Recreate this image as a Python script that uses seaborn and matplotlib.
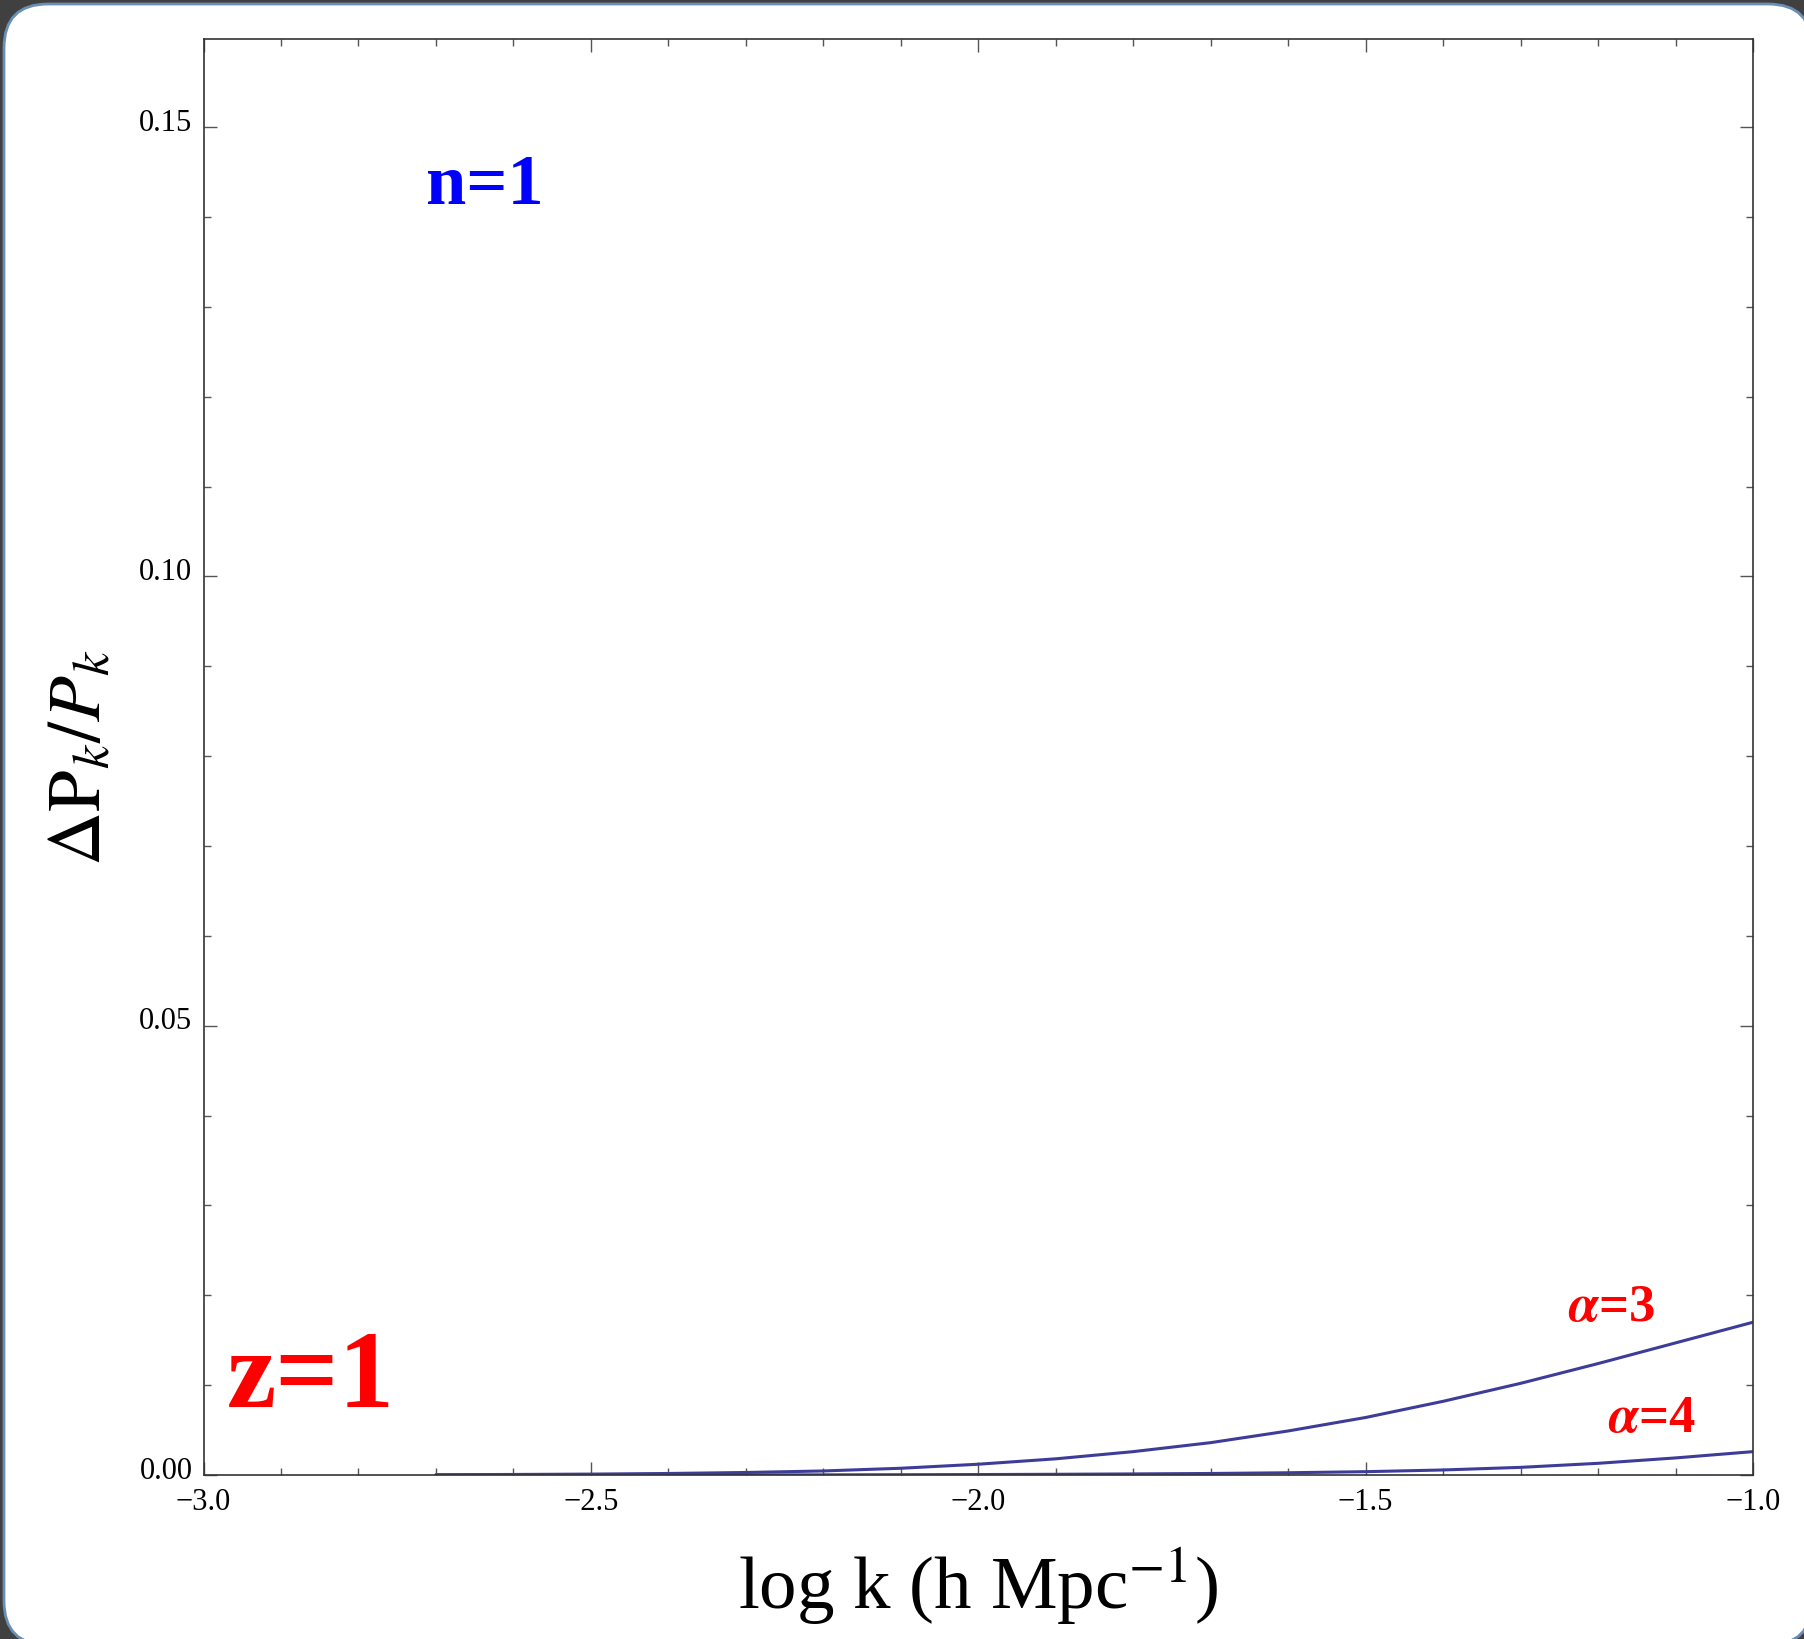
import numpy as np
import pandas as pd
import matplotlib
matplotlib.use("Agg")
import matplotlib.pyplot as plt
from matplotlib.patches import FancyBboxPatch
from matplotlib.ticker import MultipleLocator, FuncFormatter
import matplotlib.transforms as mtransforms
import seaborn as sns

# ---- data ----
log_k = [-2.7, -2.6, -2.5, -2.4, -2.3, -2.2, -2.1, -2.0, -1.9, -1.8,
         -1.7, -1.6, -1.5, -1.4, -1.3, -1.2, -1.1, -1.0]
dp_alpha3 = [0.00003, 0.00006, 0.0001, 0.00017, 0.00028, 0.00045, 0.00075, 0.0012,
             0.0018, 0.0026, 0.0036, 0.0049, 0.0064, 0.0082, 0.0102, 0.0124,
             0.0147, 0.0170]
dp_alpha4 = [0.0, 0.000001, 0.000002, 0.000004, 0.000008, 0.000015, 0.00003, 0.00005,
             0.00008, 0.00012, 0.00017, 0.00025, 0.00037, 0.00056, 0.00085, 0.0013,
             0.0019, 0.0026]
series_names = ["α=3", "α=4"]

df = pd.DataFrame({
    "logk": log_k + log_k,
    "dP": dp_alpha3 + dp_alpha4,
    "alpha": [series_names[0]] * len(log_k) + [series_names[1]] * len(log_k),
})

sns.set_theme(style="ticks")
plt.rcParams["font.family"] = ["Liberation Serif", "DejaVu Serif"]
plt.rcParams["mathtext.fontset"] = "stix"
plt.rcParams["text.color"] = "black"
plt.rcParams["axes.labelcolor"] = "black"

DPI = 200
fig = plt.figure(figsize=(1804 / DPI, 1640 / DPI), dpi=DPI)
fig.patch.set_facecolor("#404040")

# white rounded panel
panel = FancyBboxPatch((4 / DPI, -6 / DPI), (1812 - 4) / DPI, (1646 - 5) / DPI,
                       boxstyle="round,pad=0,rounding_size=0.22",
                       transform=fig.dpi_scale_trans, facecolor="white",
                       edgecolor="#6b8fb3", linewidth=1.0, zorder=-10)
fig.add_artist(panel)

ax = fig.add_axes([203.5 / 1804, 0.1, (1753 - 203.5) / 1804, (1476 - 40) / 1640])
ax.set_zorder(5)
ax.set_facecolor("white")

line_color = "#3d3d99"
sns.lineplot(data=df, x="logk", y="dP", hue="alpha",
             palette=[line_color, line_color], legend=False, ax=ax,
             linewidth=1.1, estimator=None)

ax.set_xlim(-3.0, -1.0)
ax.set_ylim(0.0, 0.1598)

def fmt_x(v, pos):
    s = "%.1f" % abs(v)
    return ("\u2212" + s) if v < -1e-9 else s

def fmt_y(v, pos):
    return "%.2f" % v

ax.xaxis.set_major_locator(MultipleLocator(0.5))
ax.xaxis.set_minor_locator(MultipleLocator(0.1))
ax.yaxis.set_major_locator(MultipleLocator(0.05))
ax.yaxis.set_minor_locator(MultipleLocator(0.01))
ax.xaxis.set_major_formatter(FuncFormatter(fmt_x))
ax.yaxis.set_major_formatter(FuncFormatter(fmt_y))

ax.tick_params(which="both", direction="in", top=True, right=True,
               color="#555555", width=0.5)
ax.tick_params(which="major", length=4.7, labelsize=11, colors="#555555",
               labelcolor="black")
ax.tick_params(which="minor", length=2.6)
ax.tick_params(axis="x", which="major", pad=4.2)
ax.tick_params(axis="y", which="major", pad=4)

# lift y tick labels slightly (as in the reference) so "0.00" clears "−3.0"
lift = mtransforms.ScaledTranslation(0, 3 / 72, fig.dpi_scale_trans)
for lab in ax.get_yticklabels():
    lab.set_transform(lab.get_transform() + lift)

for s in ax.spines.values():
    s.set_color("#333333")
    s.set_linewidth(0.6)

ax.set_xlabel(r"log k (h Mpc$^{-1}$)", fontsize=27, labelpad=10, color="black")
ax.set_ylabel(r"$\Delta\mathrm{P}_k/P_k$", fontsize=27, labelpad=8, color="black")

ax.text(-2.637, 0.1416, "n=1", color="#0000ff", fontsize=26,
        fontweight="bold", ha="center", va="baseline")
ax.text(-2.861, 0.0077, "z=1", color="#ff0000", fontsize=40,
        fontweight="bold", ha="center", va="baseline")
ax.text(-1.182, 0.0172, r"$\boldsymbol{\alpha}$=3", color="#ff0000", fontsize=19,
        fontweight="bold", ha="center", va="baseline")
ax.text(-1.131, 0.0049, r"$\boldsymbol{\alpha}$=4", color="#ff0000", fontsize=19,
        fontweight="bold", ha="center", va="baseline")

fig.savefig("out.png", dpi=DPI, facecolor=fig.get_facecolor())
